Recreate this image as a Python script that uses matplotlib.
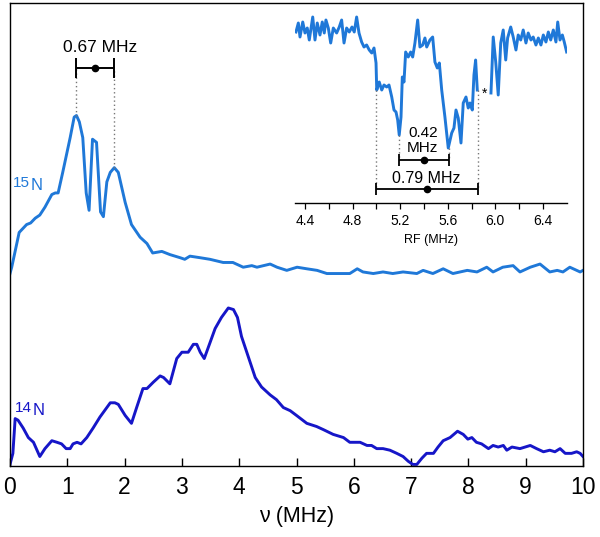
import numpy as np
import matplotlib
matplotlib.use("Agg")
import matplotlib.pyplot as plt

plt.rcParams['font.family'] = ['Liberation Sans', 'DejaVu Sans']

# ---------------- data ----------------
nu_15N = [0.00, 0.03, 0.16, 0.29, 0.36, 0.44, 0.52, 0.61, 0.73, 0.79, 0.84, 0.92, 1.05, 1.12, 1.16,
          1.21, 1.27, 1.33, 1.38, 1.44, 1.51, 1.58, 1.63, 1.69, 1.75, 1.82, 1.89, 2.01, 2.12, 2.27,
          2.39, 2.49, 2.65, 2.79, 2.97, 3.05, 3.14, 3.32, 3.49, 3.72, 3.89, 4.07, 4.22, 4.31, 4.54,
          4.66, 4.83, 5.01, 5.18, 5.36, 5.53, 5.76, 5.93, 6.06, 6.16, 6.34, 6.51, 6.68, 6.86, 7.10,
          7.21, 7.38, 7.56, 7.73, 7.98, 8.15, 8.32, 8.43, 8.60, 8.78, 8.90, 9.08, 9.25, 9.42, 9.55,
          9.65, 9.77, 9.95, 10.0]
I_15N = [-0.01, 0.03, 0.25, 0.30, 0.31, 0.34, 0.36, 0.41, 0.49, 0.50, 0.50, 0.63, 0.85, 0.98, 0.99,
         0.95, 0.85, 0.50, 0.39, 0.84, 0.82, 0.38, 0.35, 0.57, 0.63, 0.66, 0.63, 0.44, 0.30, 0.22,
         0.18, 0.12, 0.13, 0.11, 0.09, 0.08, 0.10, 0.09, 0.08, 0.06, 0.06, 0.03, 0.04, 0.03, 0.05,
         0.03, 0.01, 0.03, 0.02, 0.01, -0.01, -0.01, -0.01, 0.02, 0.00, -0.01, 0.00, -0.01, 0.00, -0.01,
         0.01, -0.01, 0.02, -0.01, 0.01, 0.00, 0.03, 0.00, 0.03, 0.04, 0.00, 0.03, 0.05, 0.00, 0.01,
         0.00, 0.03, 0.00, 0.01]

nu_14N = [0.00, 0.05, 0.09, 0.14, 0.23, 0.32, 0.41, 0.52, 0.61, 0.73, 0.82, 0.90, 0.98, 1.05, 1.10,
          1.17, 1.24, 1.34, 1.45, 1.57, 1.69, 1.75, 1.83, 1.89, 2.01, 2.12, 2.21, 2.32, 2.39, 2.50,
          2.62, 2.68, 2.79, 2.91, 3.00, 3.11, 3.20, 3.26, 3.32, 3.39, 3.46, 3.58, 3.69, 3.81, 3.90,
          3.97, 4.04, 4.16, 4.28, 4.39, 4.54, 4.65, 4.77, 4.89, 5.00, 5.18, 5.35, 5.47, 5.64, 5.82,
          5.93, 6.11, 6.23, 6.31, 6.40, 6.51, 6.63, 6.75, 6.86, 6.95, 7.03, 7.10, 7.19, 7.27, 7.39,
          7.47, 7.56, 7.68, 7.81, 7.91, 7.99, 8.06, 8.14, 8.23, 8.35, 8.43, 8.52, 8.61, 8.67, 8.76,
          8.90, 9.08, 9.19, 9.31, 9.42, 9.51, 9.60, 9.69, 9.80, 9.89, 9.95, 10.0]
I_14N = [0.01, 0.08, 0.30, 0.29, 0.24, 0.18, 0.15, 0.06, 0.11, 0.16, 0.15, 0.14, 0.11, 0.11, 0.14,
         0.15, 0.14, 0.18, 0.24, 0.31, 0.37, 0.40, 0.40, 0.39, 0.32, 0.27, 0.37, 0.49, 0.49, 0.53,
         0.57, 0.56, 0.52, 0.68, 0.72, 0.72, 0.77, 0.77, 0.72, 0.68, 0.75, 0.87, 0.94, 1.00, 0.99,
         0.94, 0.82, 0.69, 0.56, 0.50, 0.45, 0.42, 0.37, 0.35, 0.32, 0.27, 0.25, 0.23, 0.20, 0.18,
         0.15, 0.15, 0.13, 0.13, 0.11, 0.11, 0.10, 0.08, 0.06, 0.03, 0.01, 0.01, 0.05, 0.08, 0.08,
         0.12, 0.16, 0.18, 0.22, 0.20, 0.17, 0.18, 0.15, 0.14, 0.11, 0.13, 0.12, 0.13, 0.10, 0.12,
         0.11, 0.13, 0.11, 0.09, 0.10, 0.09, 0.11, 0.08, 0.08, 0.09, 0.08, 0.06]

offset_15N = 1.228

rf = [4.324, 4.344, 4.358, 4.381, 4.400, 4.419, 4.436, 4.465, 4.484, 4.503, 4.526, 4.545, 4.562,
      4.576, 4.596, 4.616, 4.638, 4.666, 4.688, 4.708, 4.728, 4.750, 4.772, 4.795, 4.814, 4.834,
      4.854, 4.876, 4.896, 4.918, 4.940, 4.961, 4.980, 4.997, 5.003, 5.024, 5.045, 5.064, 5.087,
      5.106, 5.129, 5.148, 5.165, 5.179, 5.192, 5.207, 5.218, 5.232, 5.246, 5.268, 5.288, 5.305,
      5.324, 5.347, 5.366, 5.389, 5.408, 5.423, 5.450, 5.473, 5.492, 5.512, 5.529, 5.549, 5.576,
      5.604, 5.633, 5.652, 5.669, 5.688, 5.711, 5.730, 5.753, 5.772, 5.787, 5.806, 5.820, 5.834,
      5.848, 5.900,
      5.963, 5.982, 6.003, 6.024, 6.045, 6.066, 6.087, 6.103, 6.129, 6.150, 6.173, 6.192, 6.213,
      6.234, 6.257, 6.276, 6.299, 6.318, 6.341, 6.361, 6.383, 6.403, 6.425, 6.445, 6.465, 6.487,
      6.509, 6.524, 6.543, 6.563, 6.579, 6.599]
rf_signal = [1.71, 1.80, 1.66, 1.81, 1.70, 1.75, 1.63, 1.86, 1.63, 1.80, 1.68, 1.81, 1.70,
             1.83, 1.75, 1.60, 1.75, 1.70, 1.76, 1.83, 1.60, 1.75, 1.71, 1.76, 1.71, 1.86,
             1.70, 1.61, 1.56, 1.58, 1.53, 1.50, 1.55, 1.40, 1.13, 1.21, 1.13, 1.18, 1.16,
             1.18, 1.06, 0.93, 0.91, 0.83, 0.68, 0.86, 1.26, 1.21, 1.51, 1.46, 1.51, 1.46,
             1.60, 1.83, 1.56, 1.58, 1.65, 1.56, 1.63, 1.66, 1.41, 1.35, 1.40, 1.13, 0.86,
             0.55, 0.70, 0.75, 0.93, 0.85, 0.60, 1.00, 1.06, 0.95, 1.00, 0.93, 1.28, 1.43,
             1.13, np.nan,
             1.10, 1.66, 1.41, 1.08, 1.60, 1.73, 1.43, 1.65, 1.76, 1.66, 1.53, 1.68, 1.63,
             1.73, 1.60, 1.70, 1.63, 1.66, 1.58, 1.65, 1.58, 1.68, 1.61, 1.71, 1.63, 1.73,
             1.61, 1.81, 1.63, 1.68, 1.61, 1.51]

main_xticks = [0, 1, 2, 3, 4, 5, 6, 7, 8, 9, 10]
inset_major = [4.4, 4.8, 5.2, 5.6, 6.0, 6.4]
inset_minor = [4.6, 5.0, 5.4, 5.8, 6.2]

# splittings
split15_lo, split15_hi = 1.15, 1.82          # 0.67 MHz
inner_lo, inner_hi = 5.19, 5.61              # 0.42 MHz
outer_lo, outer_hi = 5.00, 5.85              # 0.79 MHz

c15 = '#1f78d8'
c14 = '#1616c8'
LW = 2.1

# ---------------- figure ----------------
fig = plt.figure(figsize=(6.0, 5.37), dpi=100)
ax = fig.add_axes([10/600, 1-466/537, 573/600, 463/537])

ax.plot(nu_15N, np.array(I_15N) + offset_15N, color=c15, lw=LW, solid_joinstyle='round')
ax.plot(nu_14N, I_14N, color=c14, lw=LW, solid_joinstyle='round')

ax.set_xlim(0, 10)
ax.set_ylim(0, 2.93)
ax.set_yticks([])
ax.set_xticks(main_xticks)
ax.tick_params(axis='x', direction='in', length=6, width=1, labelsize=16.5, pad=7)
for s in ax.spines.values():
    s.set_linewidth(1.0)
ax.set_xlabel('ν (MHz)', fontsize=15.5, labelpad=5)

# 0.67 MHz splitting
ybar = 2.519
ax.plot([split15_lo, split15_lo], [0.99 + offset_15N, ybar], ls=(0, (1, 2)), color='#777777', lw=1)
ax.plot([split15_hi, split15_hi], [0.66 + offset_15N, ybar], ls=(0, (1, 2)), color='#777777', lw=1)
ax.errorbar([(split15_lo + split15_hi) / 2], [ybar], xerr=[(split15_hi - split15_lo) / 2],
            fmt='o', ms=4.5, color='black', ecolor='black', elinewidth=1.4, capsize=7, capthick=1.4)
ax.text((split15_lo + split15_hi) / 2 + 0.08, 2.60, '0.67 MHz', ha='center', va='bottom', fontsize=12.5)

# labels
ax.text(0.05, 1.766, '15', color=c15, fontsize=11, ha='left', va='baseline')
ax.text(0.36, 1.745, 'N', color=c15, fontsize=12, ha='left', va='baseline')
ax.text(0.08, 0.342, '14', color=c14, fontsize=11, ha='left', va='baseline')
ax.text(0.39, 0.322, 'N', color=c14, fontsize=12, ha='left', va='baseline')

# ---------------- inset ----------------
axi = fig.add_axes([295/600, 1-203/537, 272/600, 193/537])
axi.patch.set_alpha(0)
axi.plot(rf, rf_signal, color=c15, lw=LW, solid_joinstyle='round')
axi.set_xlim(4.316, 6.602)
axi.set_ylim(0, 1.93)
for k in ['left', 'right', 'top']:
    axi.spines[k].set_visible(False)
axi.spines['bottom'].set_linewidth(1.0)
axi.set_yticks([])
axi.set_xticks(inset_major)
axi.set_xticks(inset_minor, minor=True)
axi.set_xticklabels([f'{v:.1f}' for v in inset_major])
axi.tick_params(axis='x', which='both', direction='out', length=4, width=0.9, labelsize=10, pad=4)
axi.set_xlabel('RF (MHz)', fontsize=9, labelpad=4)

y_inner, y_outer = 0.43, 0.14
dot_kw = dict(ls=(0, (1, 2)), color='#777777', lw=1)
axi.plot([outer_lo, outer_lo], [1.13, y_outer], **dot_kw)
axi.plot([outer_hi, outer_hi], [1.13, y_outer], **dot_kw)
axi.plot([inner_lo, inner_lo], [0.68, y_inner], **dot_kw)
axi.plot([inner_hi, inner_hi], [0.55, y_inner], **dot_kw)
axi.errorbar([(inner_lo + inner_hi) / 2], [y_inner], xerr=[(inner_hi - inner_lo) / 2],
             fmt='o', ms=4.5, color='black', elinewidth=1.3, capsize=4, capthick=1.3)
axi.errorbar([(outer_lo + outer_hi) / 2], [y_outer], xerr=[(outer_hi - outer_lo) / 2],
             fmt='o', ms=4.5, color='black', elinewidth=1.3, capsize=4, capthick=1.3)
axi.text(5.39, 0.48, '0.42\nMHz', ha='center', va='bottom', fontsize=11, linespacing=1.05)
axi.text(5.42, 0.17, '0.79 MHz', ha='center', va='bottom', fontsize=11.5)
axi.text(5.91, 1.02, '*', ha='center', va='bottom', fontsize=10)

fig.savefig('out.png', dpi=100)
